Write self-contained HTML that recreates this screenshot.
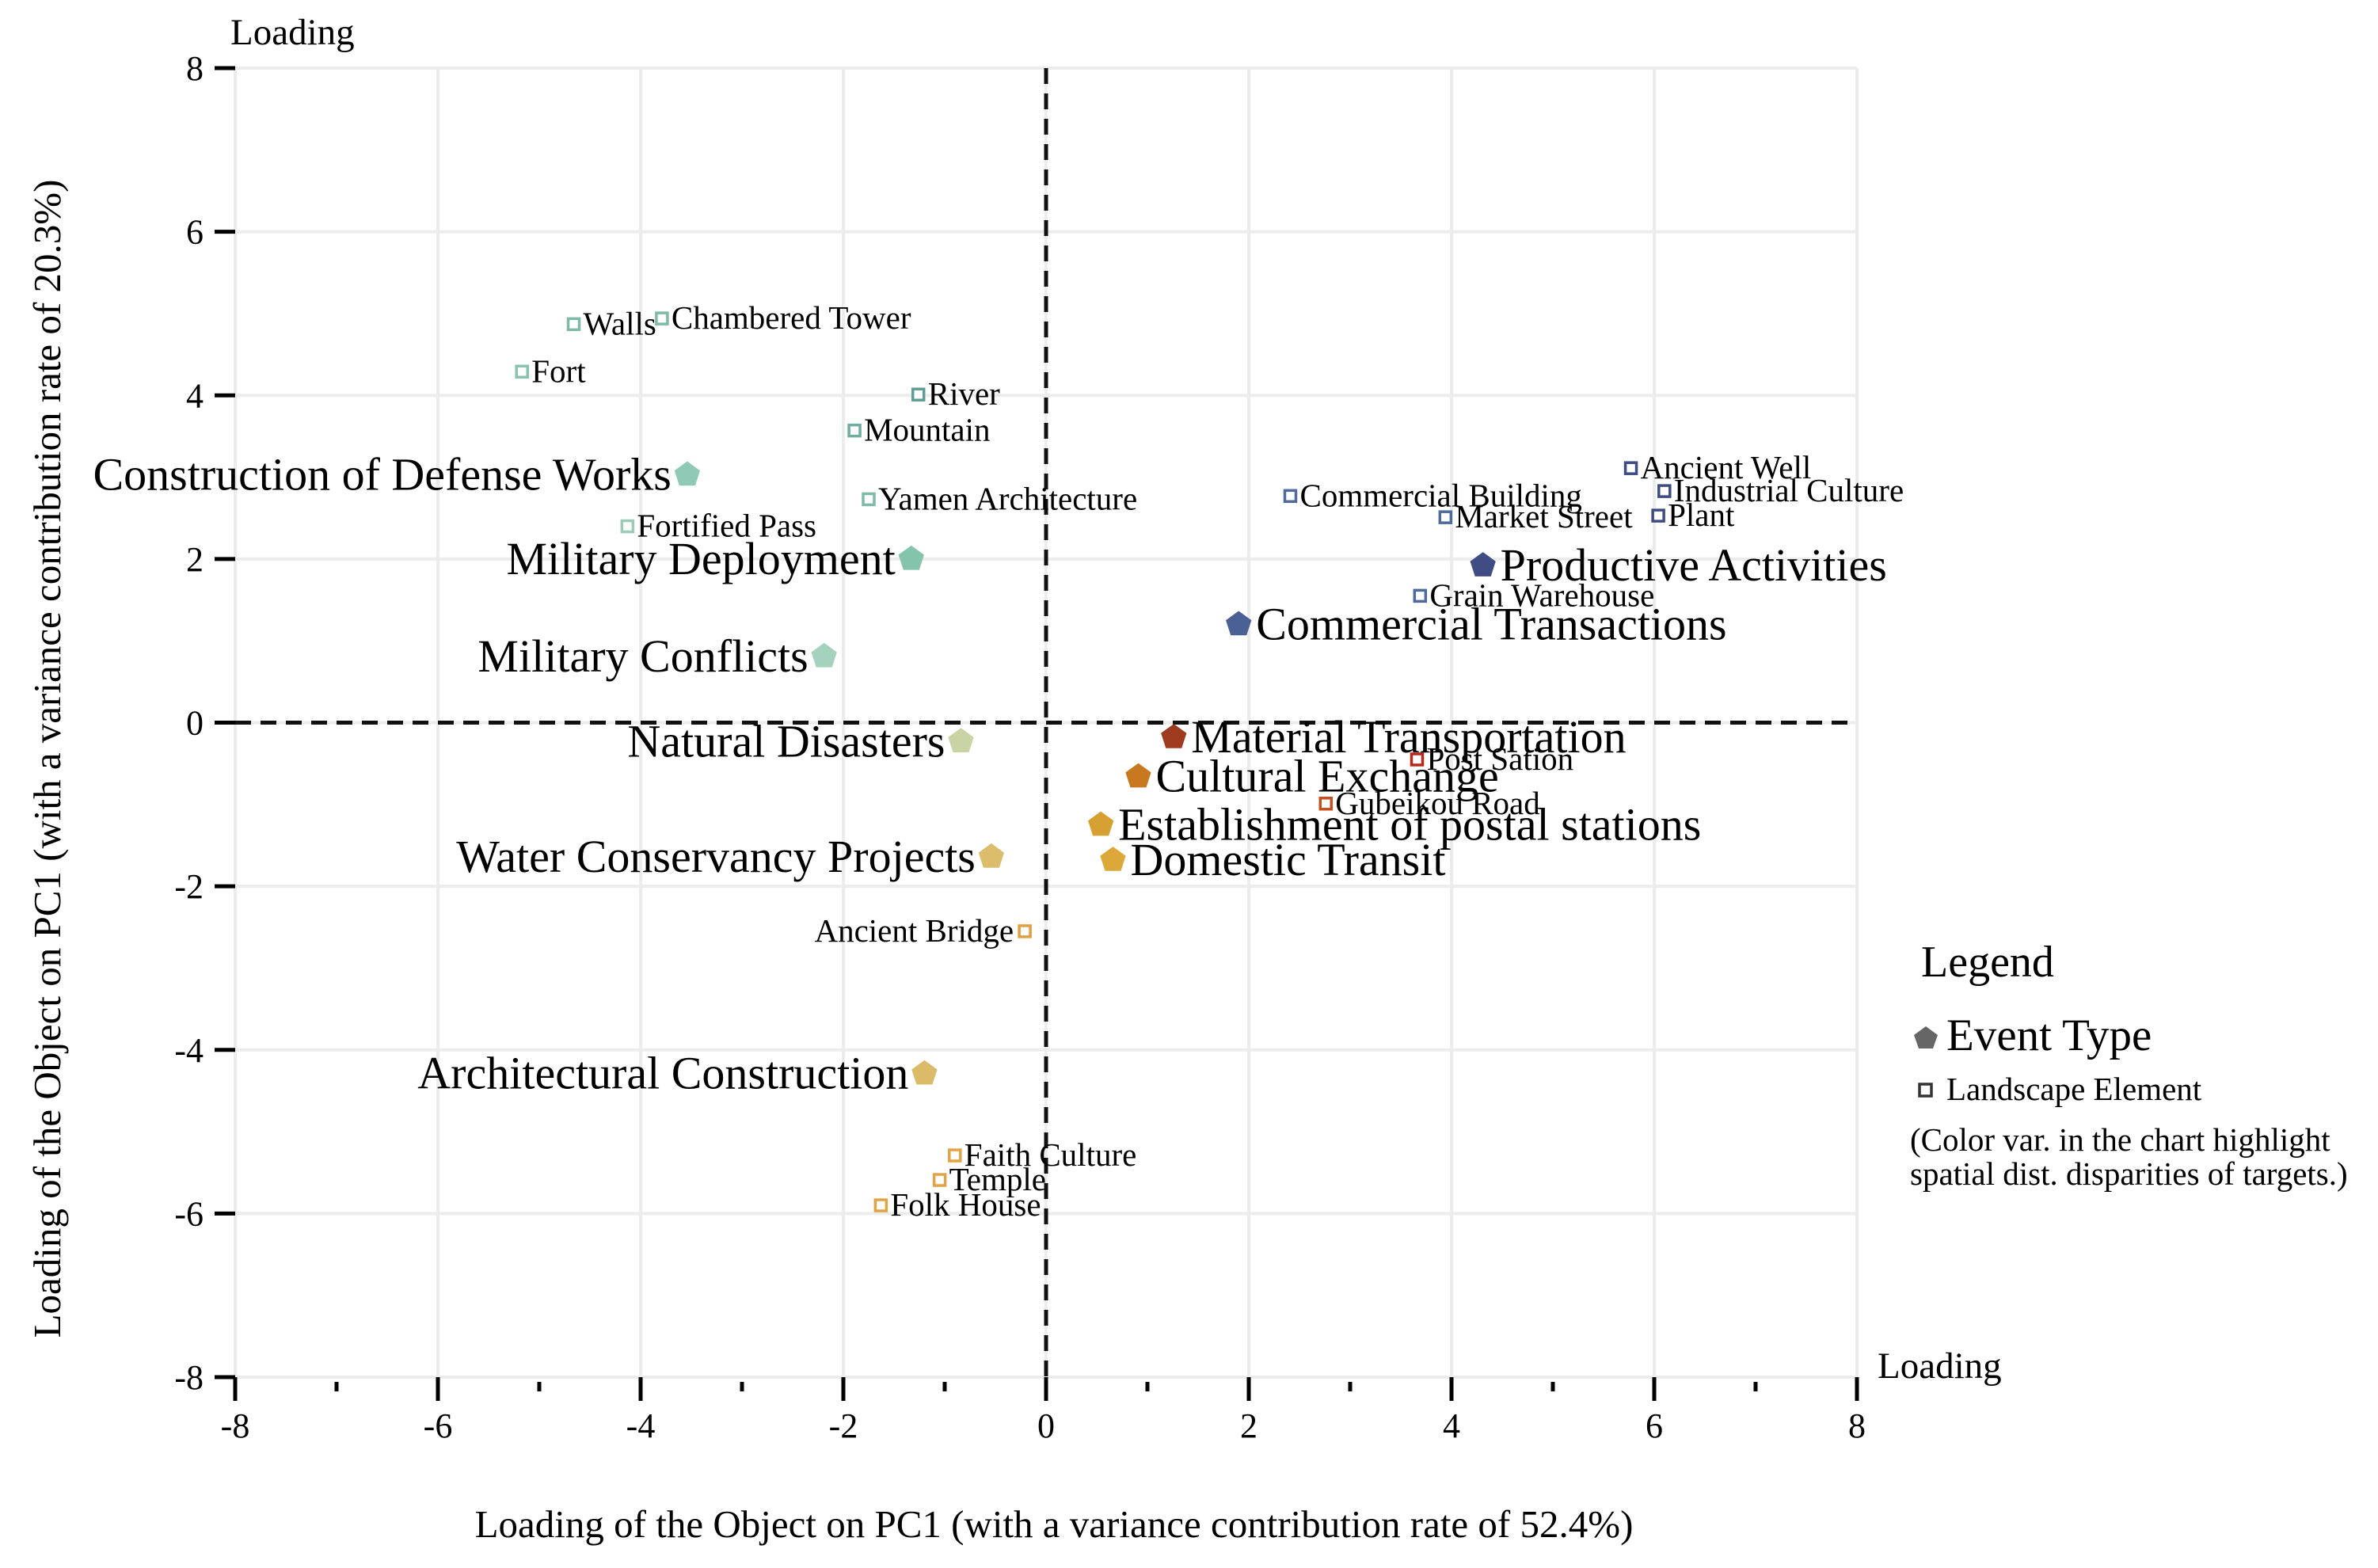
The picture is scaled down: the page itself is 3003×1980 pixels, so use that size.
<!DOCTYPE html>
<html><head><meta charset="utf-8"><style>
html,body{margin:0;padding:0;background:#fff;}
svg{display:block;font-family:"Liberation Serif",serif;}
</style></head><body>
<svg id="chart" width="3003" height="1980" viewBox="0 0 3003 1980" xmlns="http://www.w3.org/2000/svg">
<g id="grid"></g>
<g id="axes"></g>
<g id="marks"></g>
<text x="291" y="56" font-size="47">Loading</text>
<text x="2371" y="1740" font-size="47">Loading</text>
<text x="0" y="0" font-size="49" text-anchor="middle" transform="translate(76,958) rotate(-90)">Loading of the Object on PC1 (with a variance contribution rate of 20.3%)</text>
<text x="1331" y="1941" font-size="49" text-anchor="middle">Loading of the Object on PC1 (with a variance contribution rate of 52.4%)</text>
<g>
<text x="2426" y="1233" font-size="56">Legend</text>
<polygon points="2432,1296 2447,1307 2441,1324 2423,1324 2417,1307" fill="#666"/>
<text x="2458" y="1326" font-size="57">Event Type</text>
<rect x="2424" y="1369" width="15" height="15" fill="none" stroke="#333" stroke-width="3.5"/>
<text x="2458" y="1389" font-size="41">Landscape Element</text>
<text x="2412" y="1453" font-size="41">(Color var. in the chart highlight</text>
<text x="2412" y="1496" font-size="41">spatial dist. disparities of targets.)</text>
</g>
</svg>
<script>
const eventNames = ["Construction of Defense Works","Military Deployment","Military Conflicts","Natural Disasters","Water Conservancy Projects","Architectural Construction","Material Transportation","Cultural Exchange","Establishment of postal stations","Domestic Transit","Commercial Transactions","Productive Activities"];
const eventX = [-3.54,-1.33,-2.19,-0.84,-0.54,-1.20,1.26,0.91,0.54,0.66,1.90,4.31];
const eventY = [3.03,2.00,0.81,-0.23,-1.64,-4.29,-0.18,-0.66,-1.25,-1.68,1.20,1.92];
const eventColors = ["#8fcab6","#84c4ad","#a4d2bc","#c8d4a4","#dcbd6c","#dcbb68","#9e3a1e","#c8781f","#d6a033","#dca83a","#4b6094","#3f4d84"];
const eventLeft = [1,1,1,1,1,1,0,0,0,0,0,0];

const landNames = ["Walls","Chambered Tower","Fort","River","Mountain","Yamen Architecture","Fortified Pass","Commercial Building","Market Street","Ancient Well","Industrial Culture","Plant","Grain Warehouse","Post Sation","Gubeikou Road","Ancient Bridge","Faith Culture","Temple","Folk House"];
const landX = [-4.66,-3.79,-5.17,-1.26,-1.89,-1.75,-4.13,2.41,3.94,5.77,6.10,6.04,3.69,3.66,2.76,-0.21,-0.90,-1.05,-1.63];
const landY = [4.87,4.94,4.29,4.01,3.57,2.73,2.40,2.77,2.51,3.11,2.83,2.53,1.55,-0.45,-0.99,-2.55,-5.29,-5.59,-5.90];
const landColors = ["#7fb9a8","#7fb9a8","#8cc2b0","#5e9e95","#6fae9f","#7fb9a8","#9ccbb9","#4f6a9c","#4f6a9c","#3d4d84","#3d4d84","#3d4d84","#4f6a9c","#b5281c","#c4501e","#e0a040","#e3a345","#e3a345","#e3a345"];
const landLeft = [0,0,0,0,0,0,0,0,0,0,0,0,0,0,0,1,0,0,0];

const majorTicks = [-8,-6,-4,-2,0,2,4,6,8];
const minorTicks = [-7,-5,-3,-1,1,3,5,7];

const X0=297, X1=2345, Y0=86, Y1=1739;
function sx(v){return X0+(v+8)/16*(X1-X0);}
function sy(v){return Y1-(v+8)/16*(Y1-Y0);}
const NS="http://www.w3.org/2000/svg";
function mk(tag,parent,attrs){const e=document.createElementNS(NS,tag);for(const k in attrs)e.setAttribute(k,attrs[k]);parent.appendChild(e);return e;}
const grid=document.getElementById('grid'), axes=document.getElementById('axes'), marks=document.getElementById('marks');

majorTicks.forEach(t=>{
  const gv=mk('line',grid,{x1:sx(t),x2:sx(t),y1:Y0,y2:Y1,stroke:'#ececec','stroke-width':4});
  
  
  const gh=mk('line',grid,{x1:X0,x2:X1,y1:sy(t),y2:sy(t),stroke:'#ececec','stroke-width':4});
  
  
  const tx=mk('line',axes,{x1:sx(t),x2:sx(t),y1:Y1,y2:Y1+30,stroke:'#000','stroke-width':5});
  
  
  const ty=mk('line',axes,{x1:X0-26,x2:X0,y1:sy(t),y2:sy(t),stroke:'#000','stroke-width':5});
  
  
  const lx=mk('text',axes,{x:sx(t),y:Y1+76,'font-size':44,'text-anchor':'middle'});
  lx.textContent=t;
  
  
  const ly=mk('text',axes,{x:X0-40,y:sy(t)+15,'font-size':44,'text-anchor':'end'});
  ly.textContent=t;
  
  
});
minorTicks.forEach(t=>{
  const m=mk('line',axes,{x1:sx(t),x2:sx(t),y1:Y1+6,y2:Y1+18,stroke:'#000','stroke-width':5});
  
  
});
const dv=mk('line',axes,{x1:sx(0),x2:sx(0),y1:Y0,y2:Y1,stroke:'#111','stroke-width':5,'stroke-dasharray':'20 12'});


const dh=mk('line',axes,{x1:X0,x2:X1,y1:sy(0),y2:sy(0),stroke:'#111','stroke-width':5,'stroke-dasharray':'20 12'});



landNames.forEach((n,i)=>{
  const cx=sx(landX[i]), cy=sy(landY[i]);
  const r=mk('rect',marks,{x:cx-7,y:cy-7,width:14,height:14,fill:'#fff',stroke:landColors[i],'stroke-width':3.5});
  
  
  const t=mk('text',marks,{x:landLeft[i]?cx-14:cx+12,y:cy+13,'font-size':41,'text-anchor':landLeft[i]?'end':'start'});
  t.textContent=n;
  
  
});
eventNames.forEach((n,i)=>{
  const cx=sx(eventX[i]), cy=sy(eventY[i]), R=17;
  let pts=[];
  for(let k=0;k<5;k++){const a=-Math.PI/2+k*2*Math.PI/5;pts.push((cx+R*Math.cos(a)).toFixed(1)+','+(cy+R*Math.sin(a)).toFixed(1));}
  const p=mk('polygon',marks,{points:pts.join(' '),fill:eventColors[i]});
  
  
  const t=mk('text',marks,{x:eventLeft[i]?cx-20:cx+22,y:cy+19,'font-size':58,'text-anchor':eventLeft[i]?'end':'start'});
  t.textContent=n;
  
  
});
</script>
</body></html>
